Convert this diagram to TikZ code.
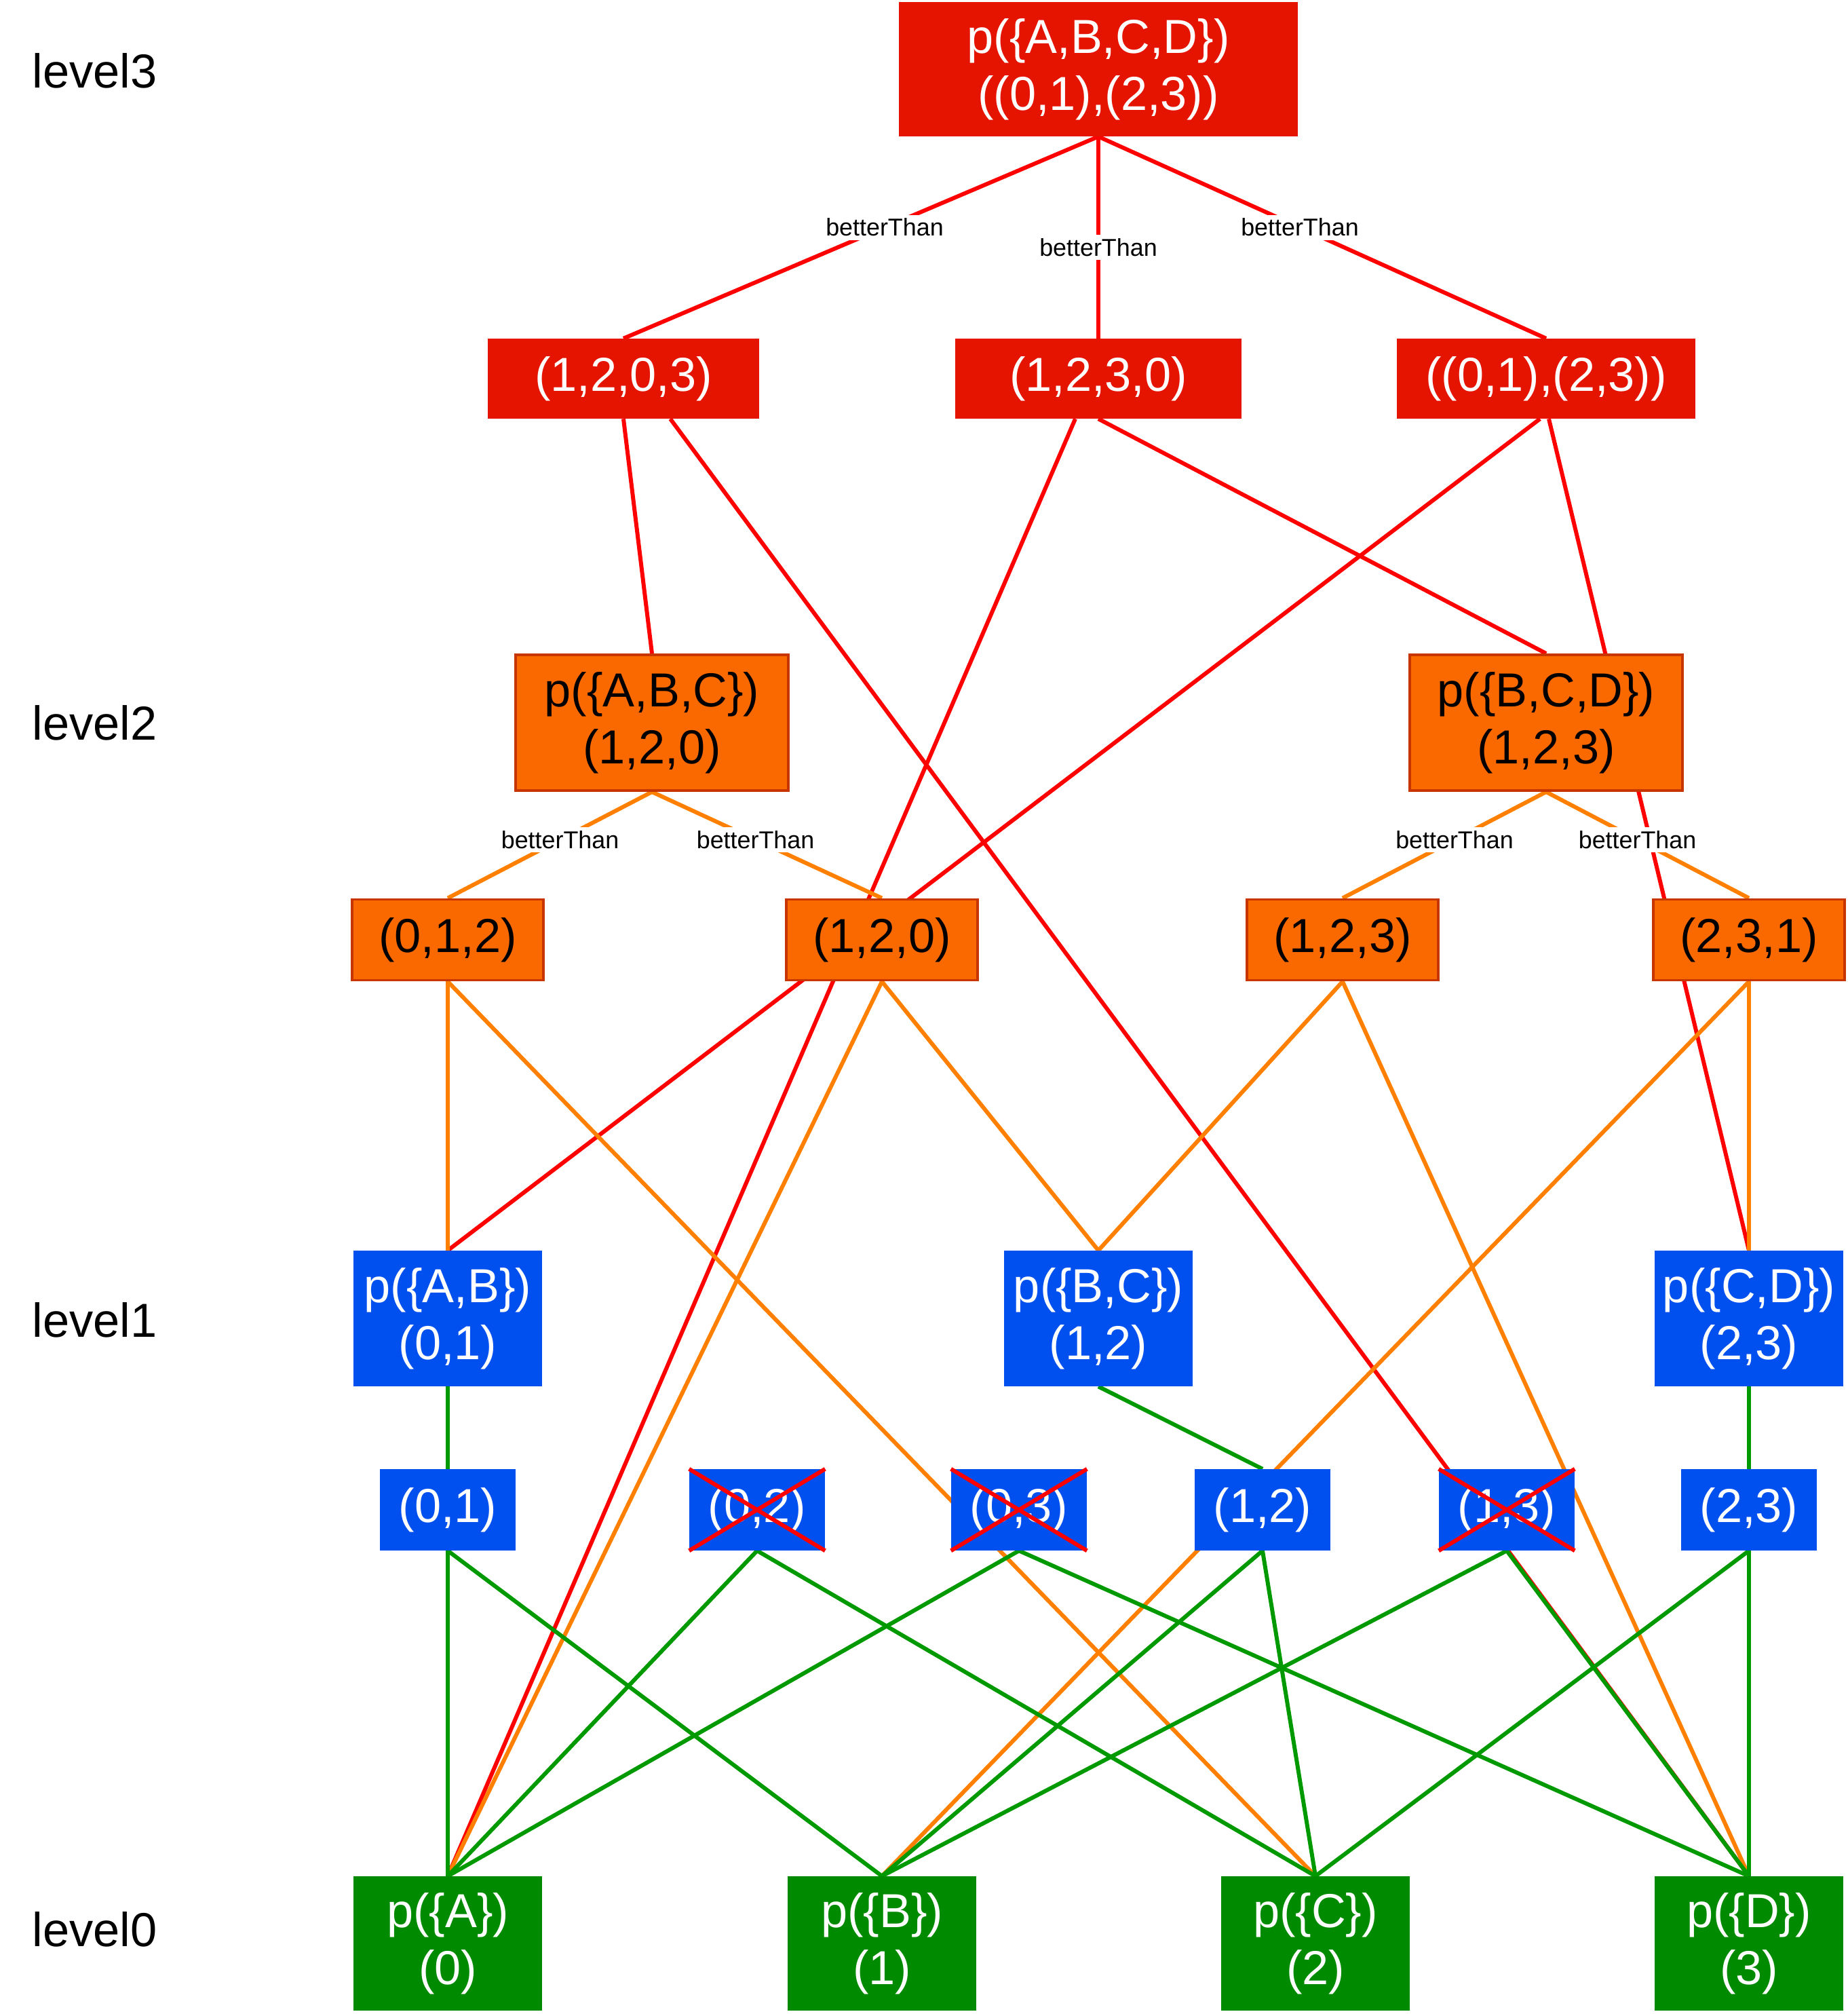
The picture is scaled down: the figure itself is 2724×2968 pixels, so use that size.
\documentclass[tikz,border=0pt]{standalone}
\usepackage{fontspec}
\setmainfont{Liberation Sans}
\usepackage{tikz}
\usetikzlibrary{backgrounds}
\definecolor{BoxRed}{HTML}{E51400}
\definecolor{BoxOrange}{HTML}{FA6800}
\definecolor{OrangeBorder}{HTML}{C73500}
\definecolor{BoxBlue}{HTML}{0050EF}
\definecolor{BoxGreen}{HTML}{008A00}
\definecolor{LineRed}{HTML}{FF0000}
\definecolor{LineOrange}{HTML}{FF8000}
\definecolor{LineGreen}{HTML}{009900}

\begin{document}
\begin{tikzpicture}[
      x=0.01cm, y=-0.01cm,
      every node/.style={align=center, inner sep=0pt},
      big/.style={font=\fontsize{20}{24}\selectfont},
      level/.style={big, anchor=west},
      redbox/.style={big, fill=BoxRed, text=white},
      orangebox/.style={big, fill=BoxOrange, draw=OrangeBorder, line width=1.1pt, text=black},
      bluebox/.style={big, fill=BoxBlue, text=white},
      greenbox/.style={big, fill=BoxGreen, text=white},
      redline/.style={LineRed, line width=1.7pt},
      orangeline/.style={LineOrange, line width=1.7pt},
      greenline/.style={LineGreen, line width=1.7pt},
      better/.style={fill=white, text=black, font=\fontsize{10.2}{12}\selectfont, inner sep=1.5pt, pos=0.45},
      cross/.style={LineRed, line width=1.7pt}
    ]
      \useasboundingbox (0,0) rectangle (2724,2968);

      % level labels
      \node[level] (lv3) at (47,104) {level3};
      \node[level] (lv2) at (47,1065) {level2};
      \node[level] (lv1) at (47,1945) {level1};
      \node[level] (lv0) at (47,2843) {level0};

      % level 3
      \node[redbox, minimum width=5.88cm, minimum height=1.97cm] (top) at (1619,102) {p(\{A,B,C,D\})\\((0,1),(2,3))};
      \node[redbox, minimum width=3.99cm, minimum height=1.17cm] (l3a) at (919,558) {(1,2,0,3)};
      \node[redbox, minimum width=4.22cm, minimum height=1.17cm] (l3b) at (1619,558) {(1,2,3,0)};
      \node[redbox, minimum width=4.39cm, minimum height=1.17cm] (l3c) at (2279,558) {((0,1),(2,3))};

      % level 2
      \node[orangebox, minimum width=4.01cm, minimum height=2cm] (abc) at (961,1065) {p(\{A,B,C\})\\(1,2,0)};
      \node[orangebox, minimum width=4.01cm, minimum height=2cm] (bcd) at (2279,1065) {p(\{B,C,D\})\\(1,2,3)};
      \node[orangebox, minimum width=2.82cm, minimum height=1.19cm] (s012) at (660,1385) {(0,1,2)};
      \node[orangebox, minimum width=2.82cm, minimum height=1.19cm] (s120) at (1300,1385) {(1,2,0)};
      \node[orangebox, minimum width=2.82cm, minimum height=1.19cm] (s123) at (1979,1385) {(1,2,3)};
      \node[orangebox, minimum width=2.82cm, minimum height=1.19cm] (s231) at (2578,1385) {(2,3,1)};

      % level 1
      \node[bluebox, minimum width=2.78cm, minimum height=1.99cm] (ab) at (660,1943) {p(\{A,B\})\\(0,1)};
      \node[bluebox, minimum width=2.78cm, minimum height=1.99cm] (bc) at (1619,1943) {p(\{B,C\})\\(1,2)};
      \node[bluebox, minimum width=2.78cm, minimum height=1.99cm] (cd) at (2578,1943) {p(\{C,D\})\\(2,3)};
      \node[bluebox, minimum width=1.99cm, minimum height=1.19cm] (p01) at (660,2225) {(0,1)};
      \node[bluebox, minimum width=1.99cm, minimum height=1.19cm] (p02) at (1116,2225) {(0,2)};
      \node[bluebox, minimum width=1.99cm, minimum height=1.19cm] (p03) at (1502,2225) {(0,3)};
      \node[bluebox, minimum width=1.99cm, minimum height=1.19cm] (p12) at (1861,2225) {(1,2)};
      \node[bluebox, minimum width=1.99cm, minimum height=1.19cm] (p13) at (2221,2225) {(1,3)};
      \node[bluebox, minimum width=1.99cm, minimum height=1.19cm] (p23) at (2578,2225) {(2,3)};

      % level 0
      \node[greenbox, minimum width=2.78cm, minimum height=1.97cm] (a) at (660,2864) {p(\{A\})\\(0)};
      \node[greenbox, minimum width=2.78cm, minimum height=1.97cm] (b) at (1300,2864) {p(\{B\})\\(1)};
      \node[greenbox, minimum width=2.78cm, minimum height=1.97cm] (c) at (1939,2864) {p(\{C\})\\(2)};
      \node[greenbox, minimum width=2.78cm, minimum height=1.97cm] (d) at (2578,2864) {p(\{D\})\\(3)};

      \begin{scope}[on background layer]
        % level 3 edges
        \draw[redline] (top.south) -- node[better] {betterThan} (l3a.north);
        \draw[redline] (top.south) -- node[better, pos=0.55] {betterThan} (l3b.north);
        \draw[redline] (top.south) -- node[better] {betterThan} (l3c.north);
        \draw[redline] (l3a.south) -- (abc.north);
        \draw[redline] ([xshift=0.69cm]l3a.south) -- (d.north);
        \draw[redline] ([xshift=-0.34cm]l3b.south) -- (a.north);
        \draw[redline] (l3b.south) -- (bcd.north);
        \draw[redline] ([xshift=-0.09cm]l3c.south) -- (ab.north);
        \draw[redline] ([xshift=0.04cm]l3c.south) -- (cd.north);

        % level 2 edges
        \draw[orangeline] (abc.south) -- node[better] {betterThan} (s012.north);
        \draw[orangeline] (abc.south) -- node[better] {betterThan} (s120.north);
        \draw[orangeline] (bcd.south) -- node[better] {betterThan} (s123.north);
        \draw[orangeline] (bcd.south) -- node[better] {betterThan} (s231.north);
        \draw[orangeline] (s012.south) -- (ab.north);
        \draw[orangeline] (s012.south) -- (c.north);
        \draw[orangeline] (s120.south) -- (bc.north);
        \draw[orangeline] (s120.south) -- (a.north);
        \draw[orangeline] (s123.south) -- (bc.north);
        \draw[orangeline] (s123.south) -- (d.north);
        \draw[orangeline] (s231.south) -- (cd.north);
        \draw[orangeline] (s231.south) -- (b.north);

        % level 1 edges
        \draw[greenline] (ab.south) -- (p01.north);
        \draw[greenline] (bc.south) -- (p12.north);
        \draw[greenline] (cd.south) -- (p23.north);
        \draw[greenline] (p01.south) -- (a.north);
        \draw[greenline] (p01.south) -- (b.north);
        \draw[greenline] (p02.south) -- (a.north);
        \draw[greenline] (p02.south) -- (c.north);
        \draw[greenline] (p03.south) -- (a.north);
        \draw[greenline] (p03.south) -- (d.north);
        \draw[greenline] (p12.south) -- (b.north);
        \draw[greenline] (p12.south) -- (c.north);
        \draw[greenline] (p13.south) -- (b.north);
        \draw[greenline] (p13.south) -- (d.north);
        \draw[greenline] (p23.south) -- (c.north);
        \draw[greenline] (p23.south) -- (d.north);
      \end{scope}

      % pruned pairs
      \draw[cross] (p02.north west) -- (p02.south east) (p02.north east) -- (p02.south west);
      \draw[cross] (p03.north west) -- (p03.south east) (p03.north east) -- (p03.south west);
      \draw[cross] (p13.north west) -- (p13.south east) (p13.north east) -- (p13.south west);

    \end{tikzpicture}
\end{document}
